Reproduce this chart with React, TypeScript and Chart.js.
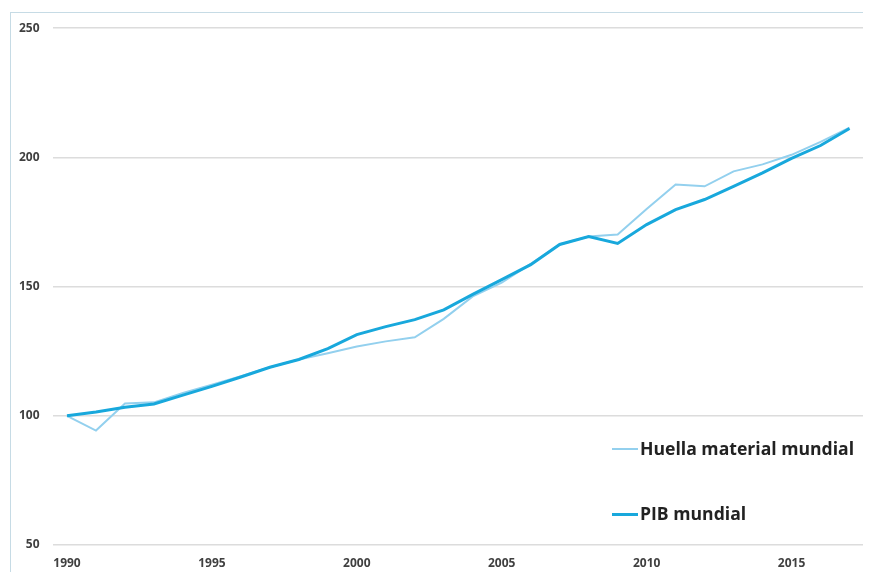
import React, { useEffect, useRef } from "react";
import { Chart, registerables } from "chart.js";

Chart.register(...registerables);

const years = [
  "1990", "1991", "1992", "1993", "1994", "1995", "1996", "1997", "1998", "1999",
  "2000", "2001", "2002", "2003", "2004", "2005", "2006", "2007", "2008", "2009",
  "2010", "2011", "2012", "2013", "2014", "2015", "2016", "2017",
];

const huellaMaterial = [
  100, 94.3, 104.8, 105.2, 108.8, 112, 115.3, 118.8, 121.8, 124.2,
  126.8, 128.8, 130.4, 137.5, 146.2, 151.5, 158.8, 166.3, 169.4, 170.2,
  180, 189.5, 188.8, 194.6, 197.3, 201, 206, 211.5,
];

const pibMundial = [
  100, 101.5, 103.3, 104.6, 108, 111.4, 115, 118.8, 121.8, 126,
  131.4, 134.5, 137.2, 141, 147, 152.7, 158.5, 166.3, 169.4, 166.7,
  174, 179.8, 183.7, 188.8, 194, 199.6, 204.6, 211.2,
];

const yTicks = [50, 100, 150, 200, 250];

const seriesNames = ["Huella material mundial", "PIB mundial"];
const colorHuella = "#93d0ee";
const colorPib = "#18a8dc";

export default function App() {
  const canvasRef = useRef<HTMLCanvasElement | null>(null);

  useEffect(() => {
    if (!canvasRef.current) return;
    const chart = new Chart(canvasRef.current, {
      type: "line",
      data: {
        labels: years,
        datasets: [
          {
            label: seriesNames[1],
            data: pibMundial,
            borderColor: colorPib,
            borderWidth: 3,
            pointRadius: 0,
            tension: 0,
            fill: false,
          },
          {
            label: seriesNames[0],
            data: huellaMaterial,
            borderColor: colorHuella,
            borderWidth: 2,
            pointRadius: 0,
            tension: 0,
            fill: false,
          },
        ],
      },
      options: {
        animation: false,
        responsive: false,
        maintainAspectRatio: false,
        layout: { padding: { top: 19, right: 7, left: 0, bottom: 0 } },
        plugins: {
          legend: { display: false },
          tooltip: { enabled: false },
        },
        scales: {
          x: {
            offset: true,
            grid: { display: false, drawTicks: false },
            border: { display: false },
            ticks: {
              autoSkip: false,
              maxRotation: 0,
              padding: 11,
              color: "#404040",
              font: { family: "'Open Sans'", size: 12, weight: "bold" },
              callback: (_v: any, i: number) =>
                Number(years[i]) % 5 === 0 ? years[i] : "",
            },
            afterFit: (s: any) => {
              s.height = 27;
            },
          },
          y: {
            min: 50,
            max: 250,
            afterBuildTicks: (s: any) => {
              s.ticks = yTicks.map((v) => ({ value: v }));
            },
            grid: {
              color: "#dcdcdc",
              lineWidth: 1.5,
              drawTicks: false,
            },
            border: { display: false },
            ticks: {
              padding: 13,
              color: "#404040",
              font: { family: "'Open Sans'", size: 12, weight: "bold" },
            },
            afterFit: (s: any) => {
              s.width = 44.5;
            },
          },
        },
      },
    });
    return () => chart.destroy();
  }, []);

  const legendText: React.CSSProperties = {
    position: "absolute",
    fontFamily: "'Open Sans', sans-serif",
    fontWeight: 700,
    fontSize: 17.6,
    color: "#222",
    whiteSpace: "nowrap",
    lineHeight: "22px",
  };

  return (
    <div style={{ position: "relative", width: 863, height: 564 }}>
      <div
        style={{
          position: "absolute",
          left: 2,
          top: 4,
          right: -20,
          bottom: -20,
          borderLeft: "1px solid #c6dbe5",
          borderTop: "1px solid #c6dbe5",
        }}
      />
      <canvas
        ref={canvasRef}
        width={863}
        height={564}
        style={{ position: "absolute", left: 0, top: 0 }}
      />
      <div style={{ position: "absolute", left: 604, top: 440, width: 26, height: 2, background: colorHuella }} />
      <div style={{ ...legendText, left: 632, top: 429 }}>{seriesNames[0]}</div>
      <div style={{ position: "absolute", left: 604, top: 505, width: 26, height: 3, background: colorPib }} />
      <div style={{ ...legendText, left: 632, top: 494 }}>{seriesNames[1]}</div>
    </div>
  );
}
